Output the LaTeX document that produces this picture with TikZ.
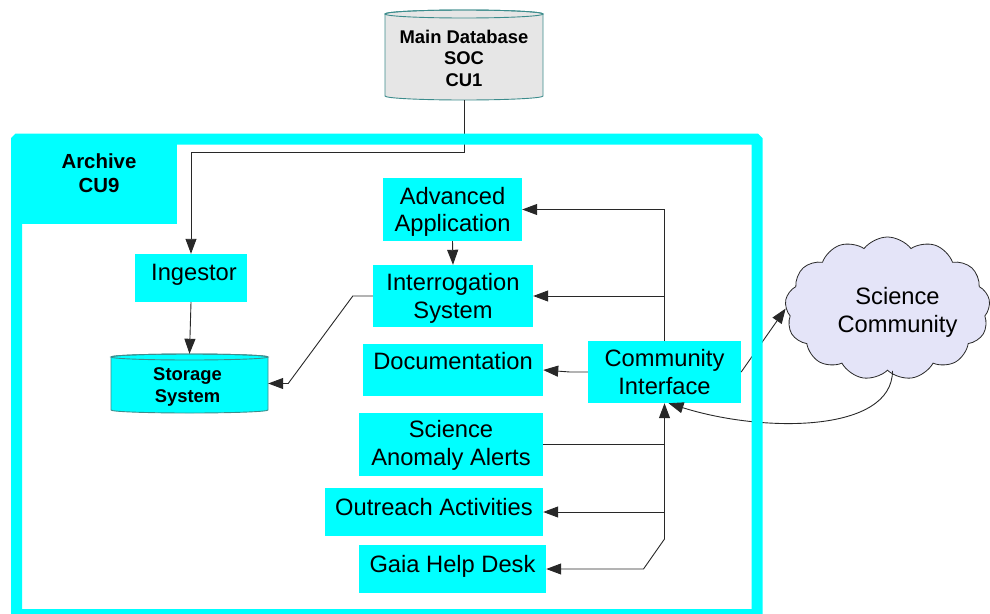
\documentclass[tikz,border=0pt]{standalone}
\usepackage{fontspec}
\setmainfont{Liberation Sans}
\usetikzlibrary{arrows.meta,shapes.symbols,calc}
\definecolor{cy}{RGB}{0,255,255}
\definecolor{dbgray}{RGB}{230,230,230}
\definecolor{dbline}{RGB}{60,140,140}
\definecolor{cloudfill}{RGB}{228,228,248}
\definecolor{ln}{RGB}{40,40,40}
\begin{document}
\begin{tikzpicture}[x=1pt,y=-1pt,
  cbox/.style={fill=cy, inner sep=0pt},
  btxt/.style={font=\fontsize{23.7}{27.5}\selectfont, align=center, inner sep=0pt, text=black},
  dbtxt/.style={font=\bfseries\fontsize{18.4}{21.5}\selectfont, align=center, inner sep=0pt, text=black},
  sttxt/.style={font=\bfseries\fontsize{18.4}{22}\selectfont, align=center, inner sep=0pt, text=black},
  arctxt/.style={font=\bfseries\fontsize{20.4}{24}\selectfont, align=center, inner sep=0pt, text=black},
  conn/.style={draw=ln, line width=0.9pt},
  arr/.style={conn, -{Triangle[length=15pt,width=11pt]}},
  cyl/.style={draw=dbline, line width=0.9pt},
]
\useasboundingbox (0,0) rectangle (990,613);
\clip (0,0) rectangle (990,613);

% Main database cylinder
\path[cyl, fill=dbgray] (385,14) -- (385,96) arc[start angle=180, end angle=0, x radius=79, y radius=4]
  -- (543,14) arc[start angle=0, end angle=-180, x radius=79, y radius=4] -- cycle;
\draw[cyl] (464,14) ellipse[x radius=79, y radius=4];
\node[inner sep=0pt, minimum width=158pt, minimum height=90pt,
  label={[dbtxt,yshift=-3pt]center:Main Database\\SOC\\CU1}] (mdb) at (464,55) {};

% Storage cylinder
\path[cyl, fill=cy] (111,357) -- (111,410) arc[start angle=180, end angle=0, x radius=78.5, y radius=3]
  -- (268,357) arc[start angle=0, end angle=-180, x radius=78.5, y radius=3] -- cycle;
\draw[cyl] (189.5,357) ellipse[x radius=78.5, y radius=3];
\node[inner sep=0pt, minimum width=157pt, minimum height=59pt,
  label={[sttxt,xshift=-2pt,yshift=-3pt]center:Storage\\System}] (sto) at (189.5,383.5) {};

% Boxes
\node[cbox, minimum width=112pt, minimum height=48pt,
  label={[btxt,xshift=3pt,yshift=3pt]center:Ingestor}] (ing) at (191,278) {};
\node[cbox, minimum width=139pt, minimum height=63pt,
  label={[btxt,yshift=-2.5pt]center:Advanced\\Application}] (adv) at (452.5,209.5) {};
\node[cbox, minimum width=160pt, minimum height=62pt,
  label={[btxt,yshift=-2.5pt]center:Interrogation\\System}] (intr) at (453,296) {};
\node[cbox, minimum width=180pt, minimum height=52pt,
  label={[btxt,yshift=8.5pt]center:Documentation}] (doc) at (453,370) {};
\node[cbox, minimum width=153pt, minimum height=62pt,
  label={[btxt]center:Community\\Interface}] (ci) at (664.5,372) {};
\node[cbox, minimum width=184pt, minimum height=63pt,
  label={[btxt,yshift=-1pt]center:Science\\Anomaly Alerts}] (saa) at (451,444.5) {};
\node[cbox, minimum width=218pt, minimum height=48pt,
  label={[btxt,yshift=5pt]center:Outreach Activities}] (outr) at (434,512) {};
\node[cbox, minimum width=187pt, minimum height=48pt,
  label={[btxt,yshift=3pt]center:Gaia Help Desk}] (gaia) at (452.5,569) {};

% Cloud
\node[cloud, cloud puffs=13, cloud puff arc=105, aspect=1.43, cloud ignores aspect,
  minimum width=205pt, minimum height=143pt, fill=cloudfill, draw=ln, line width=0.8pt, inner sep=0pt,
  label={[btxt,xshift=10pt,yshift=-4pt]center:Science\\Community}] (sc) at (887.5,308.5) {};

% Connectors
\draw[arr] (mdb.south) -- ++(0,52) -| (ing.north);
\draw[arr] (ing.south) -- (sto.north);
\draw[arr] (adv.south) -- (intr.north);
\draw[arr] (intr.west) -- ++(-20,0) -- ([xshift=20pt]sto.east) -- (sto.east);
\draw[arr] (ci.north) |- (adv.east);
\draw[arr] (ci.north |- intr.east) -- (intr.east);
\draw[arr] (ci.west) -- ++(-18,0) -- (doc.east);
\coordinate (tb) at (664.5,539);
\draw[arr] (tb) -- (ci.south);
\draw[conn] (saa.east) -- (saa.east -| tb);
\draw[arr] (outr.east -| tb) -- (outr.east);
\draw[arr] (tb) -- ++(-21,30) -- (gaia.east);
\draw[arr] (ci.east) -- (sc.west);
\draw[arr] ([xshift=5pt]sc.south) .. controls +(0,62) and +(95,30) .. ([xshift=4pt]ci.south);

% Archive frame
\draw[cy, line width=11pt, rounded corners=1.5pt] (16.5,139) rectangle (757,614.5);
\fill[cy] (22,144) rectangle (177,224);
\node[arctxt] (arch) at (99,173.7) {Archive\\CU9};
\end{tikzpicture}
\end{document}
